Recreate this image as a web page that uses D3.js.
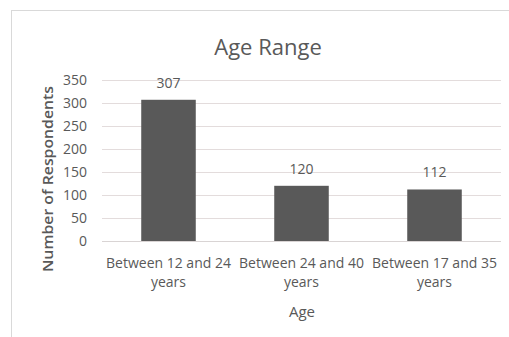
<!DOCTYPE html>
<html>
<head>
<meta charset="utf-8">
<script src="https://cdn.jsdelivr.net/npm/d3@7"></script>
<style>
  html, body { margin: 0; padding: 0; background: #fff; }
  svg { display: block; }
  text { font-family: "Open Sans", "Liberation Sans", sans-serif; fill: #595959; }
</style>
</head>
<body>
<svg id="chart" width="509" height="337"></svg>
<script>
// Respondents by age range
const categories = ["Between 12 and 24 years", "Between 24 and 40 years", "Between 17 and 35 years"];
const respondents = [307, 120, 112];
const yTicks = [0, 50, 100, 150, 200, 250, 300, 350];
const chartTitle = "Age Range";
const xTitle = "Age";
const yTitle = "Number of Respondents";

const svg = d3.select("#chart");
const W = 509, H = 337;
const plot = { left: 102, right: 501, top: 80, bottom: 241 };

// chart frame
svg.append("rect")
  .attr("x", 11.5).attr("y", 10.5)
  .attr("width", W).attr("height", H)
  .attr("fill", "#fff")
  .attr("stroke", "#d9d9d9");

const x = d3.scaleBand()
  .domain(categories)
  .range([plot.left, plot.right])
  .paddingInner(0.59)
  .paddingOuter(0.295);

const y = d3.scaleLinear()
  .domain([0, 350])
  .range([plot.bottom, plot.top]);

// horizontal gridlines and value axis labels
const yAxis = d3.axisLeft(y).tickValues(yTicks).tickSize(-(plot.right - plot.left)).tickPadding(15);
const gy = svg.append("g").attr("transform", `translate(${plot.left},0)`).call(yAxis);
gy.select(".domain").remove();
gy.selectAll(".tick line").attr("stroke", "#e3dcdc").attr("stroke-width", 1);
gy.selectAll(".tick text")
  .attr("font-size", 14)
  .style("font-family", "'Open Sans', sans-serif")
  .attr("fill", "#595959");
gy.selectAll(".tick").filter(d => d === 0).select("line").attr("stroke", "#d9d4d4");

// bars
svg.append("g").selectAll("rect")
  .data(categories)
  .join("rect")
  .attr("x", d => x(d))
  .attr("y", (d, i) => y(respondents[i]))
  .attr("width", x.bandwidth())
  .attr("height", (d, i) => y(0) - y(respondents[i]))
  .attr("fill", "#595959");

// value labels
svg.append("g").selectAll("text")
  .data(categories)
  .join("text")
  .attr("x", d => x(d) + x.bandwidth() / 2)
  .attr("y", (d, i) => y(respondents[i]) - 12)
  .attr("text-anchor", "middle")
  .attr("font-size", 14)
  .text((d, i) => respondents[i]);

// category labels (two lines each)
const xl = svg.append("g").selectAll("text")
  .data(categories)
  .join("text")
  .attr("text-anchor", "middle")
  .attr("font-size", 14)
  .attr("x", d => x(d) + x.bandwidth() / 2)
  .attr("y", 268);
xl.append("tspan")
  .attr("x", d => x(d) + x.bandwidth() / 2)
  .text(d => d.replace(/ years$/, ""));
xl.append("tspan")
  .attr("x", d => x(d) + x.bandwidth() / 2)
  .attr("dy", 19)
  .text("years");

// titles
svg.append("text")
  .attr("x", 268).attr("y", 55)
  .attr("text-anchor", "middle")
  .attr("font-size", 22)
  .text(chartTitle);

svg.append("text")
  .attr("x", 302).attr("y", 317)
  .attr("text-anchor", "middle")
  .attr("font-size", 15)
  .text(xTitle);

svg.append("text")
  .attr("transform", "translate(53,179) rotate(-90)")
  .attr("text-anchor", "middle")
  .attr("font-size", 14)
  .attr("font-weight", 600)
  .attr("textLength", 186)
  .attr("lengthAdjust", "spacingAndGlyphs")
  .text(yTitle);
</script>
</body>
</html>
